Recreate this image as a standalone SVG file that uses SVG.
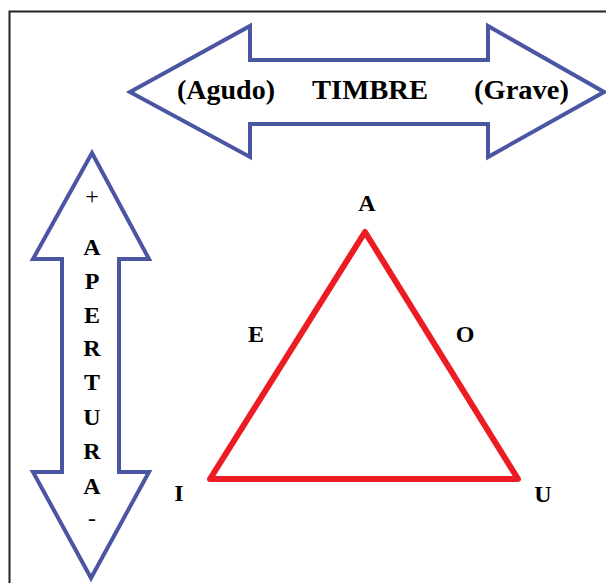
<svg xmlns="http://www.w3.org/2000/svg" width="606" height="583" viewBox="0 0 606 583">
<style>
.arrow{fill:#fff;stroke:#4B56A3;stroke-width:4;stroke-linejoin:miter}
text{font-family:'Liberation Serif','Times New Roman','DejaVu Serif',serif;font-weight:bold;fill:#000;text-anchor:middle}
.big{font-size:27px}
.v{font-size:24px}
.n{font-weight:normal}
.tri{fill:none;stroke:#ED1C24;stroke-width:6;stroke-linejoin:round;stroke-linecap:round}
</style>
<rect x="0" y="0" width="606" height="583" fill="#fff"/>
<path d="M9.5,590 V11.5 H610" fill="none" stroke="#222" stroke-width="2"/>
<g id="timbre">
<polygon class="arrow" points="130,92 250,26 250,60 488,60 488,26 604,92 488,157 488,124 250,124 250,157"/>
<text class="big" x="226" y="99" textLength="98" lengthAdjust="spacingAndGlyphs">(Agudo)</text>
<text class="big" x="370" y="99" textLength="116" lengthAdjust="spacingAndGlyphs">TIMBRE</text>
<text class="big" x="521.5" y="99" textLength="95" lengthAdjust="spacingAndGlyphs">(Grave)</text>
</g>
<g id="apertura">
<polygon class="arrow" points="92,153 149,259 119,259 119,472 149,472 91,578 33,472 62,472 62,259 33,259"/>
<text class="v n" x="92" y="204">+</text>
<text class="v" x="92" y="255">A</text>
<text class="v" x="92" y="289">P</text>
<text class="v" x="92" y="323">E</text>
<text class="v" x="92" y="356">R</text>
<text class="v" x="92" y="390">T</text>
<text class="v" x="92" y="425">U</text>
<text class="v" x="92" y="459">R</text>
<text class="v" x="92" y="494">A</text>
<text class="v n" x="92" y="526">-</text>
</g>
<g id="triangle">
<polygon class="tri" points="365,232 518,479 210,479"/>
</g>
<g id="labels">
<text class="v" x="367" y="211">A</text>
<text class="v" x="256" y="342">E</text>
<text class="v" x="465" y="342">O</text>
<text class="v" x="179" y="501">I</text>
<text class="v" x="543" y="502">U</text>
</g>
</svg>
